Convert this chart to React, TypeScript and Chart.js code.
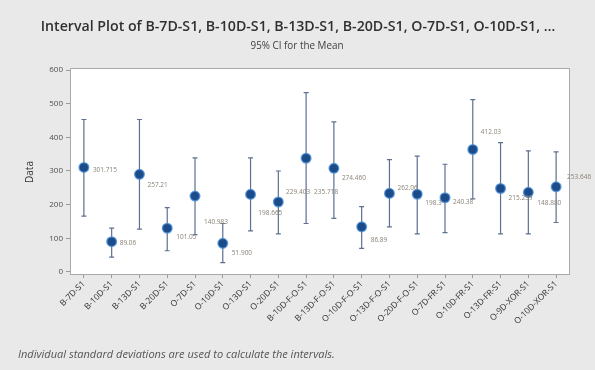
import React, { useEffect, useRef } from "react";
import { Chart, registerables } from "chart.js";

Chart.register(...registerables);

const categories = [
  "B-7D-S1", "B-10D-S1", "B-13D-S1", "B-20D-S1", "O-7D-S1", "O-10D-S1", "O-13D-S1", "O-20D-S1",
  "B-10D-F-O-S1", "B-13D-F-O-S1", "O-10D-F-O-S1", "O-13D-F-O-S1", "O-20D-F-O-S1",
  "O-7D-FR-S1", "O-10D-FR-S1", "O-13D-FR-S1", "O-9D-XOR-S1", "O-10D-XOR-S1",
];
const means = [310.6, 90, 290, 130, 225.5, 85, 230.5, 208, 338, 308, 134, 233.5, 231, 220.5, 364, 248, 236.5, 253];
const lowers = [166, 44, 127, 63, 111, 28, 122, 113, 144, 159, 70, 134, 113, 117, 217, 113, 113, 147];
const uppers = [453, 130, 453, 191, 339, 144, 339, 300, 533, 446, 194, 334, 344, 320, 512, 384, 360, 357];
const yTicks = [0, 100, 200, 300, 400, 500, 600];
const noteTexts = [
  "301.715", "89.06", "257.21", "101.05", "140.983", "51.900", "198.665", "229.403", "235.718",
  "274.460", "86.89", "262.06", "198.3", "240.38", "412.03", "215.239", "148.880", "253.646",
];
const noteIndex = [0, 1, 2, 3, 4, 5, 7, 8, 8, 9, 10, 11, 12, 13, 14, 15, 16, 17];

const titleText = "Interval Plot of B-7D-S1, B-10D-S1, B-13D-S1, B-20D-S1, O-7D-S1, O-10D-S1, \u2026";
const subtitleText = "95% CI for the Mean";
const footText = "Individual standard deviations are used to calculate the intervals.";

// style: label offsets (px) relative to the mean marker
const noteOffsets: [number, number][] = [
  [9, 3], [8, 1], [8, 11], [9, 9], [9, 26], [9, 10], [-20, 11], [-20, 34], [8, 34],
  [8, 10], [9, 13], [8, -5], [8, 9], [8, 4], [8, -17], [8, 10], [9, 11], [11, -10],
];

const FONT = "'Open Sans', 'Noto Sans', sans-serif";

function fitFont(ctx: CanvasRenderingContext2D, text: string, weight: string, style: string, target: number, base: number) {
  ctx.font = `${style} ${weight} ${base}px ${FONT}`;
  const w = ctx.measureText(text).width;
  const size = (base * target) / w;
  ctx.font = `${style} ${weight} ${size.toFixed(2)}px ${FONT}`;
}

const decorPlugin = {
  id: "decor",
  beforeDraw(chart: any) {
    const { ctx, chartArea } = chart;
    ctx.save();
    ctx.fillStyle = "#e9e9e9";
    ctx.fillRect(0, 0, chart.width, chart.height);
    ctx.fillStyle = "#ffffff";
    ctx.fillRect(chartArea.left, chartArea.top, chartArea.right - chartArea.left, chartArea.bottom - chartArea.top);
    ctx.restore();
  },
  beforeDatasetsDraw(chart: any) {
    const { ctx } = chart;
    const xs = chart.scales.x;
    const ys = chart.scales.y;
    ctx.save();
    ctx.strokeStyle = "#5d7090";
    ctx.lineWidth = 1.2;
    for (let i = 0; i < categories.length; i++) {
      const x = xs.getPixelForValue(i);
      const yl = ys.getPixelForValue(lowers[i]);
      const yu = ys.getPixelForValue(uppers[i]);
      ctx.beginPath();
      ctx.moveTo(x, yl);
      ctx.lineTo(x, yu);
      ctx.moveTo(x - 2.5, yl);
      ctx.lineTo(x + 2.5, yl);
      ctx.moveTo(x - 2.5, yu);
      ctx.lineTo(x + 2.5, yu);
      ctx.stroke();
    }
    ctx.restore();
  },
  afterDraw(chart: any) {
    const { ctx, chartArea } = chart;
    const xs = chart.scales.x;
    const ys = chart.scales.y;
    ctx.save();
    ctx.strokeStyle = "#a9a9a9";
    ctx.lineWidth = 1;
    ctx.strokeRect(chartArea.left + 0.5, chartArea.top + 0.5, chartArea.right - chartArea.left - 1, chartArea.bottom - chartArea.top - 1);

    ctx.fillStyle = "#8a8276";
    ctx.font = `6.5px ${FONT}`;
    ctx.textAlign = "left";
    ctx.textBaseline = "middle";
    for (let k = 0; k < noteTexts.length; k++) {
      const i = noteIndex[k];
      const [dx, dy] = noteOffsets[k];
      ctx.fillText(noteTexts[k], xs.getPixelForValue(i) + dx, ys.getPixelForValue(means[i]) + dy);
    }

    ctx.fillStyle = "#303030";
    ctx.textAlign = "center";
    fitFont(ctx, titleText, "600", "normal", 515, 14);
    ctx.fillText(titleText, 298, 27);
    ctx.fillStyle = "#404040";
    fitFont(ctx, subtitleText, "400", "normal", 93, 9);
    ctx.fillText(subtitleText, 297, 46);

    ctx.save();
    ctx.translate(30, 172);
    ctx.rotate(-Math.PI / 2);
    ctx.fillStyle = "#333333";
    ctx.font = `10px ${FONT}`;
    ctx.fillText("Data", 0, 0);
    ctx.restore();

    ctx.textAlign = "left";
    ctx.fillStyle = "#555555";
    fitFont(ctx, footText, "400", "italic", 317, 8);
    ctx.fillText(footText, 18, 355);
    ctx.restore();
  },
};

export default function App() {
  const ref = useRef<HTMLCanvasElement | null>(null);
  useEffect(() => {
    const prevMargin = document.body.style.margin;
    document.body.style.margin = "0";
    const canvas = ref.current!;
    const chart = new Chart(canvas, {
      type: "line",
      data: {
        labels: categories,
        datasets: [
          {
            data: means,
            showLine: false,
            pointRadius: 4.8,
            pointHoverRadius: 4.8,
            pointBackgroundColor: "#1b4b88",
            pointBorderColor: "rgba(70,140,215,0.75)",
            pointBorderWidth: 1.5,
          },
        ],
      },
      options: {
        animation: false,
        responsive: false,
        devicePixelRatio: 1,
        layout: { padding: { top: 68, right: 25, left: 0, bottom: 0 } },
        plugins: { legend: { display: false }, tooltip: { enabled: false }, title: { display: false } },
        scales: {
          x: {
            type: "category",
            offset: true,
            grid: { drawOnChartArea: false, drawTicks: true, tickLength: 3, color: "#9a9a9a" },
            border: { display: false },
            ticks: {
              minRotation: 45,
              maxRotation: 45,
              autoSkip: false,
              padding: 1,
              color: "#333333",
              font: { family: FONT, size: 8.5 },
            },
            afterFit: (s: any) => {
              s.height = 95;
            },
          },
          y: {
            min: -9,
            max: 606,
            grid: { drawOnChartArea: false, drawTicks: true, tickLength: 4, color: "#9a9a9a" },
            border: { display: false },
            ticks: { color: "#505050", font: { family: FONT, size: 8 }, padding: 3 },
            afterBuildTicks: (s: any) => {
              s.ticks = yTicks.map((v) => ({ value: v }));
            },
            afterFit: (s: any) => {
              s.width = 70;
            },
          },
        },
      },
      plugins: [decorPlugin],
    });
    return () => {
      chart.destroy();
      document.body.style.margin = prevMargin;
    };
  }, []);
  return (
    <div style={{ position: "absolute", left: 0, top: 0, width: 595, height: 370 }}>
      <canvas ref={ref} width={595} height={370} style={{ display: "block", width: 595, height: 370 }} />
    </div>
  );
}
